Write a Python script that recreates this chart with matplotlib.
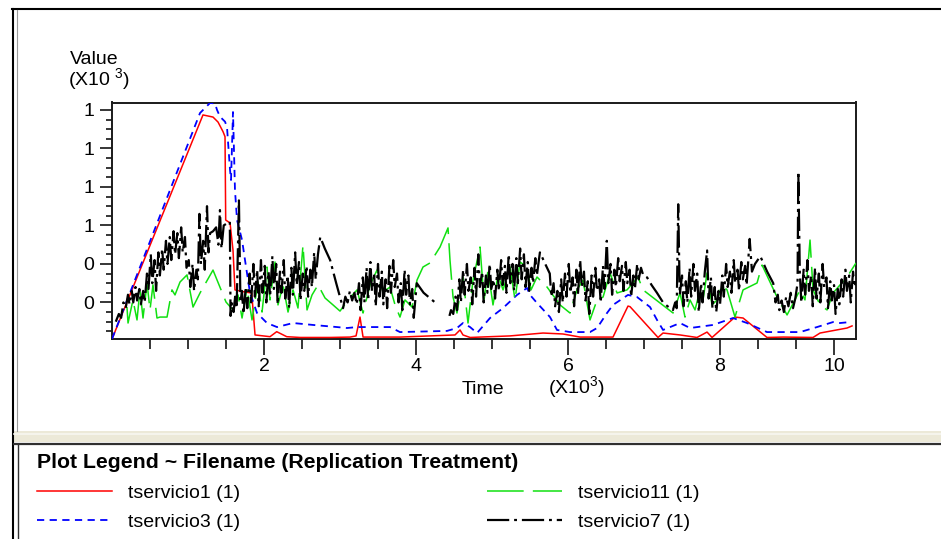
import numpy as np
import matplotlib
matplotlib.use('Agg')
import matplotlib.pyplot as plt
from matplotlib.lines import Line2D
from matplotlib.patches import Rectangle

plt.rcParams['font.family'] = ['Liberation Sans', 'DejaVu Sans']
plt.rcParams['mathtext.fontset'] = 'custom'
plt.rcParams['mathtext.rm'] = 'Liberation Sans'

W, H = 941, 539

# time in thousands, value in thousands
t1 = [0, 1.197, 1.329, 1.395, 1.461, 1.487, 1.496, 1.553, 1.592, 1.618,
      1.75, 1.838, 1.882, 2.079, 2.167, 2.299, 2.474, 2.868, 3.132, 3.211,
      3.263, 3.303, 3.789, 4.513, 4.579, 4.618, 4.711, 5.237, 5.671, 5.934,
      6.158, 6.592, 6.789, 6.816, 7.184, 7.25, 7.474, 7.697, 7.829, 7.895,
      8.197, 8.303, 8.618, 8.829, 9.224, 9.316, 9.671, 9.737]
v1 = [0.11, 1.274, 1.263, 1.237, 1.187, 1.161, 0.728, 0.713, 0.572, 0.365,
      0.354, 0.349, 0.131, 0.122, 0.148, 0.122, 0.118, 0.118, 0.120, 0.126,
      0.224, 0.120, 0.120, 0.131, 0.157, 0.131, 0.118, 0.126, 0.141, 0.136,
      0.12, 0.12, 0.281, 0.278, 0.118, 0.141, 0.131, 0.118, 0.146, 0.118,
      0.224, 0.219, 0.118, 0.12, 0.118, 0.141, 0.167, 0.178]

t3 = [0, 1.158, 1.289, 1.355, 1.382, 1.421, 1.487, 1.513, 1.553, 1.566, 1.592,
      1.618, 1.645, 1.711, 1.75, 1.816, 1.908, 2.039, 2.171, 2.382, 2.645,
      2.961, 3.092, 3.224, 3.658, 3.789, 4.408, 4.539, 4.618, 4.711, 4.803,
      4.974, 5.145, 5.329, 5.461, 5.5, 5.592, 5.763, 5.855, 6.026, 6.289,
      6.382, 6.513, 6.592, 6.789, 6.908, 7.079, 7.171, 7.25, 7.474, 7.605,
      7.908, 8.171, 8.355, 8.618, 9.053, 9.276, 9.487, 9.579, 9.711]
v3 = [0.11, 1.284, 1.336, 1.334, 1.30, 1.265, 1.239, 1.211, 0.988, 0.936, 1.289,
      0.884, 0.728, 0.624, 0.52, 0.349, 0.245, 0.193, 0.172, 0.193, 0.183,
      0.172, 0.167, 0.172, 0.172, 0.146, 0.152, 0.167, 0.193, 0.172, 0.141,
      0.219, 0.271, 0.339, 0.375, 0.339, 0.297, 0.224, 0.157, 0.146, 0.146,
      0.167, 0.245, 0.287, 0.339, 0.328, 0.276, 0.209, 0.157, 0.193, 0.167,
      0.183, 0.219, 0.193, 0.146, 0.146, 0.172, 0.198, 0.193, 0.198]

t11 = [0.197, 0.211, 0.276, 0.329, 0.368, 0.408, 0.461, 0.5, 0.539, 0.592,
       0.632, 0.724, 0.789, 0.829, 0.895, 0.987, 1.066, 1.158, 1.329, 1.5,
       1.592, 1.658, 1.711, 1.776, 1.842, 1.921, 1.974, 2.039, 2.079, 2.145,
       2.184, 2.25, 2.316, 2.382, 2.447, 2.513, 2.566, 2.632, 2.711, 2.803,
       2.908, 3.0, 3.105, 3.224, 3.303, 3.395, 3.487, 3.566, 3.658, 3.724,
       3.789, 3.855, 3.947, 4.013, 4.092, 4.184, 4.316, 4.421, 4.447, 4.487,
       4.539, 4.618, 4.684, 4.75, 4.842, 4.895, 4.947, 5.013, 5.079, 5.145,
       5.237, 5.303, 5.368, 5.461, 5.513, 5.592, 5.724, 5.895, 6.026, 6.118,
       6.197, 6.289, 6.382, 6.461, 6.553, 6.645, 6.776, 6.855, 6.921, 6.987,
       7.382, 7.474, 7.539, 7.605, 7.671, 7.737, 7.776, 7.829, 7.895, 7.961,
       8.026, 8.092, 8.197, 8.263, 8.303, 8.487, 8.553, 8.75, 8.882, 9.053,
       9.118, 9.184, 9.224, 9.316, 9.408, 9.487, 9.579, 9.671, 9.789]
v11 = [0.276, 0.193, 0.313, 0.209, 0.365, 0.219, 0.401, 0.261, 0.391, 0.219,
       0.224, 0.224, 0.365, 0.339, 0.406, 0.443, 0.276, 0.349, 0.468, 0.302,
       0.261, 0.339, 0.219, 0.375, 0.209, 0.406, 0.250, 0.484, 0.313, 0.51,
       0.287, 0.391, 0.25, 0.365, 0.271, 0.598, 0.261, 0.339, 0.391, 0.323,
       0.287, 0.255, 0.313, 0.365, 0.245, 0.391, 0.468, 0.354, 0.38, 0.287,
       0.224, 0.313, 0.276, 0.416, 0.484, 0.505, 0.588, 0.687, 0.52, 0.328,
       0.245, 0.432, 0.193, 0.416, 0.588, 0.313, 0.468, 0.287, 0.443, 0.365,
       0.484, 0.313, 0.51, 0.484, 0.365, 0.432, 0.38, 0.287, 0.245, 0.365,
       0.416, 0.209, 0.313, 0.328, 0.453, 0.349, 0.365, 0.401, 0.432, 0.365,
       0.245, 0.349, 0.224, 0.313, 0.261, 0.365, 0.313, 0.453, 0.287, 0.313,
       0.391, 0.365, 0.224, 0.313, 0.365, 0.401, 0.494, 0.328, 0.235, 0.365,
       0.313, 0.624, 0.365, 0.287, 0.261, 0.349, 0.391, 0.432, 0.505]

t7 = [0.05, 0.09, 0.12, 0.15, 0.18, 0.21, 0.23, 0.26, 0.28, 0.31,
      0.33, 0.36, 0.38, 0.41, 0.43, 0.46, 0.48, 0.51, 0.53, 0.56,
      0.58, 0.61, 0.63, 0.66, 0.68, 0.71, 0.73, 0.76, 0.78, 0.81,
      0.83, 0.86, 0.88, 0.91, 0.93, 0.96, 0.98, 1.01, 1.03, 1.06,
      1.08, 1.11, 1.13, 1.15, 1.17, 1.20, 1.22, 1.25, 1.27, 1.29,
      1.33, 1.37, 1.40, 1.42, 1.44, 1.47, 1.51, 1.55, 1.56, 1.58,
      1.60, 1.62, 1.64, 1.67, 1.69, 1.71, 1.73, 1.76, 1.78, 1.81,
      1.83, 1.86, 1.88, 1.91, 1.93, 1.96, 1.98, 2.01, 2.03, 2.06,
      2.08, 2.11, 2.13, 2.16, 2.18, 2.21, 2.23, 2.26, 2.28, 2.31,
      2.33, 2.36, 2.38, 2.41, 2.43, 2.46, 2.48, 2.51, 2.53, 2.56,
      2.58, 2.61, 2.63, 2.66, 2.68, 2.71, 2.74, 2.80, 2.87, 2.95,
      3.04, 3.07, 3.10, 3.13, 3.16, 3.19, 3.22, 3.25, 3.27, 3.30,
      3.32, 3.35, 3.37, 3.40, 3.42, 3.45, 3.47, 3.50, 3.52, 3.55,
      3.57, 3.60, 3.62, 3.65, 3.67, 3.70, 3.72, 3.75, 3.77, 3.80,
      3.82, 3.85, 3.87, 3.90, 3.92, 3.95, 3.97, 4.01, 4.10, 4.19,
      4.28, 4.36, 4.44, 4.46, 4.49, 4.52, 4.54, 4.57, 4.59, 4.62,
      4.64, 4.67, 4.69, 4.72, 4.74, 4.77, 4.79, 4.82, 4.84, 4.87,
      4.89, 4.92, 4.94, 4.97, 4.99, 5.02, 5.04, 5.07, 5.09, 5.12,
      5.14, 5.17, 5.19, 5.22, 5.24, 5.27, 5.29, 5.32, 5.34, 5.37,
      5.39, 5.42, 5.44, 5.47, 5.49, 5.52, 5.54, 5.57, 5.59, 5.63,
      5.70, 5.76, 5.78, 5.81, 5.83, 5.86, 5.88, 5.91, 5.93, 5.96,
      5.98, 6.01, 6.03, 6.06, 6.08, 6.11, 6.13, 6.16, 6.18, 6.21,
      6.23, 6.26, 6.28, 6.31, 6.33, 6.36, 6.38, 6.41, 6.43, 6.46,
      6.48, 6.51, 6.53, 6.56, 6.58, 6.61, 6.63, 6.66, 6.68, 6.71,
      6.73, 6.76, 6.78, 6.81, 6.83, 6.86, 6.88, 6.91, 6.93, 6.96,
      6.99, 7.04, 7.10, 7.17, 7.25, 7.31, 7.38, 7.41, 7.43, 7.45,
      7.47, 7.50, 7.52, 7.55, 7.57, 7.60, 7.62, 7.65, 7.67, 7.70,
      7.72, 7.75, 7.77, 7.80, 7.83, 7.85, 7.88, 7.90, 7.93, 7.95,
      7.98, 8.00, 8.03, 8.05, 8.08, 8.10, 8.13, 8.15, 8.18, 8.20,
      8.23, 8.25, 8.28, 8.30, 8.33, 8.35, 8.39, 8.42, 8.46, 8.53,
      8.62, 8.70, 8.73, 8.76, 8.78, 8.81, 8.84, 8.87, 8.90, 8.93,
      8.96, 8.99, 9.02, 9.03, 9.05, 9.07, 9.10, 9.12, 9.15, 9.17,
      9.20, 9.22, 9.25, 9.27, 9.30, 9.32, 9.35, 9.37, 9.40, 9.42,
      9.45, 9.47, 9.50, 9.52, 9.55, 9.57, 9.60, 9.62, 9.65, 9.67,
      9.70, 9.72, 9.75, 9.77, 9.79]
v7 = [0.20, 0.24, 0.22, 0.30, 0.27, 0.34, 0.29, 0.36, 0.30, 0.38,
      0.31, 0.37, 0.29, 0.36, 0.30, 0.45, 0.37, 0.55, 0.40, 0.52,
      0.36, 0.56, 0.44, 0.58, 0.47, 0.62, 0.50, 0.64, 0.52, 0.67,
      0.55, 0.66, 0.53, 0.69, 0.56, 0.64, 0.48, 0.52, 0.38, 0.50,
      0.36, 0.47, 0.42, 0.76, 0.50, 0.62, 0.47, 0.80, 0.56, 0.66,
      0.67, 0.69, 0.60, 0.78, 0.58, 0.70, 0.71, 0.72, 0.23, 0.30,
      0.25, 0.33, 0.27, 0.83, 0.30, 0.36, 0.24, 0.38, 0.27, 0.45,
      0.30, 0.50, 0.33, 0.47, 0.28, 0.52, 0.35, 0.49, 0.30, 0.46,
      0.33, 0.54, 0.37, 0.50, 0.29, 0.46, 0.35, 0.52, 0.32, 0.44,
      0.27, 0.48, 0.34, 0.56, 0.39, 0.51, 0.31, 0.45, 0.36, 0.49,
      0.33, 0.47, 0.38, 0.56, 0.42, 0.55, 0.64, 0.58, 0.52, 0.40,
      0.27, 0.33, 0.30, 0.36, 0.31, 0.35, 0.29, 0.40, 0.26, 0.43,
      0.30, 0.48, 0.31, 0.51, 0.36, 0.44, 0.28, 0.50, 0.33, 0.46,
      0.29, 0.42, 0.27, 0.49, 0.35, 0.52, 0.38, 0.45, 0.30, 0.40,
      0.26, 0.47, 0.34, 0.44, 0.29, 0.37, 0.22, 0.40, 0.35, 0.32,
      0.29, np.nan, 0.23, 0.26, 0.24, 0.33, 0.26, 0.42, 0.30, 0.47,
      0.34, 0.50, 0.36, 0.43, 0.29, 0.48, 0.33, 0.55, 0.38, 0.46,
      0.30, 0.44, 0.35, 0.50, 0.37, 0.42, 0.32, 0.47, 0.36, 0.52,
      0.39, 0.49, 0.35, 0.55, 0.40, 0.50, 0.36, 0.53, 0.40, 0.58,
      0.42, 0.55, 0.38, 0.51, 0.36, 0.48, 0.40, 0.53, 0.44, 0.56,
      0.50, 0.45, 0.33, 0.40, 0.28, 0.36, 0.25, 0.42, 0.30, 0.45,
      0.33, 0.50, 0.35, 0.43, 0.28, 0.47, 0.34, 0.52, 0.38, 0.46,
      0.31, 0.41, 0.24, 0.44, 0.33, 0.48, 0.36, 0.42, 0.30, 0.49,
      0.37, 0.62, 0.40, 0.50, 0.34, 0.47, 0.38, 0.53, 0.41, 0.49,
      0.36, 0.51, 0.40, 0.47, 0.33, 0.44, 0.37, 0.50, 0.42, 0.48,
      0.44, 0.43, 0.39, 0.35, 0.30, 0.28, 0.26, 0.30, 0.27, 0.81,
      0.34, 0.44, 0.28, 0.41, 0.30, 0.48, 0.33, 0.50, 0.36, 0.45,
      0.25, 0.40, 0.30, 0.46, 0.57, 0.32, 0.43, 0.27, 0.38, 0.25,
      0.36, 0.29, 0.44, 0.33, 0.50, 0.38, 0.46, 0.35, 0.52, 0.40,
      0.47, 0.36, 0.51, 0.42, 0.49, 0.39, 0.63, 0.46, 0.50, 0.54,
      0.46, 0.40, 0.30, 0.34, 0.26, 0.31, 0.25, 0.33, 0.28, 0.35,
      0.27, 0.32, 0.40, 0.98, 0.45, 0.30, 0.47, 0.34, 0.52, 0.36,
      0.44, 0.28, 0.48, 0.32, 0.45, 0.30, 0.50, 0.38, 0.43, 0.27,
      0.41, 0.31, 0.39, 0.24, 0.37, 0.29, 0.42, 0.33, 0.47, 0.36,
      0.44, 0.30, 0.46, 0.38, 0.41]

x_major = [2, 4, 6, 8, 9.5]
x_labels = ['2', '4', '6', '8', '10']
y_major = [0.3, 0.5, 0.7, 0.9, 1.1, 1.3]
y_labels = ['0', '0', '1', '1', '1', '1']


def fx(x):
    return x / W


def fy(y):
    return 1 - y / H


fig = plt.figure(figsize=(W / 100, H / 100), dpi=100)
fig.patch.set_facecolor('white')

ax = fig.add_axes([fx(112), fy(339), (856 - 112) / W, (339 - 102.5) / H])
h1, = ax.plot(t1, v1, color='#ff0000', lw=1.1, zorder=3)
h3, = ax.plot(t3, v3, color='#0000ff', lw=1.3, ls=(0, (4.0, 3.0)), zorder=4)
h11, = ax.plot(t11, v11, color='#11e011', lw=1.1, ls=(0, (24, 6)), zorder=5)
h7, = ax.plot(t7, v7, color='black', lw=1.6, ls=(0, (10, 2.2, 1.3, 2.2)), zorder=6)

ax.set_xlim(0, 9.789)
ax.set_ylim(0.11, 1.3386)
ax.set_xticks(x_major)
ax.set_xticklabels(x_labels)
ax.set_xticks(np.arange(0.5, 9.8, 0.5), minor=True)
ax.set_yticks(y_major)
ax.set_yticklabels(y_labels)
ax.set_yticks(np.arange(0.15, 1.33, 0.05), minor=True)
ax.tick_params(axis='x', which='major', length=11.5, width=1.1, pad=2, labelsize=14)
ax.tick_params(axis='x', which='minor', length=7, width=1.1)
ax.tick_params(axis='y', which='major', length=8.6, width=1.1, pad=4, labelsize=14)
ax.tick_params(axis='y', which='minor', length=4.3, width=1.1)
for s in ax.spines.values():
    s.set_linewidth(1.4)
    s.set_color('#1a1a1a')

fig.text(fx(70), fy(60), 'Value', fontsize=14, va='center', ha='left')
fig.text(fx(68), fy(80), '(X10 $^{3}$)', fontsize=14, va='center', ha='left')
fig.text(fx(483), fy(389), 'Time', fontsize=14, va='center', ha='center')
fig.text(fx(548), fy(388), '(X10$^{3}$)', fontsize=14, va='center', ha='left')

# window frame and legend panel divider
fig.add_artist(Line2D([fx(12), 1], [fy(8.5), fy(8.5)], color='black', lw=1.5))
fig.add_artist(Line2D([fx(13), fx(13)], [fy(8.5), 0], color='black', lw=1.5))
fig.add_artist(Line2D([fx(16.5), fx(16.5)], [fy(10), fy(431)], color='#9a9a9a', lw=0.8))
fig.add_artist(Rectangle((fx(14), fy(442)), 1, 11 / H, transform=fig.transFigure,
                         facecolor='#ECE9D8', edgecolor='none'))
fig.add_artist(Line2D([fx(14), 1], [fy(434), fy(434)], color='#F8F7F1', lw=1.2))
fig.add_artist(Line2D([fx(14), 1], [fy(443.5), fy(443.5)], color='#303030', lw=1.6))
fig.add_artist(Line2D([fx(17.5), fx(17.5)], [fy(444), 0], color='#303030', lw=1.0))

fig.text(fx(37), fy(463), 'Plot Legend ~ Filename (Replication Treatment)',
         fontsize=15.3, fontweight='bold', va='center', ha='left')

leg_kw = dict(loc='upper left', frameon=False, borderpad=0, borderaxespad=0,
              handlelength=3.86, handletextpad=0.82, labelspacing=0.62, fontsize=14)
fig.legend([h1, h3], ['tservicio1 (1)', 'tservicio3 (1)'],
           bbox_to_anchor=(fx(37), fy(484)), **leg_kw)
fig.legend([h11, h7], ['tservicio11 (1)', 'tservicio7 (1)'],
           bbox_to_anchor=(fx(487), fy(484)), **leg_kw)

fig.savefig('out.png', dpi=100)
